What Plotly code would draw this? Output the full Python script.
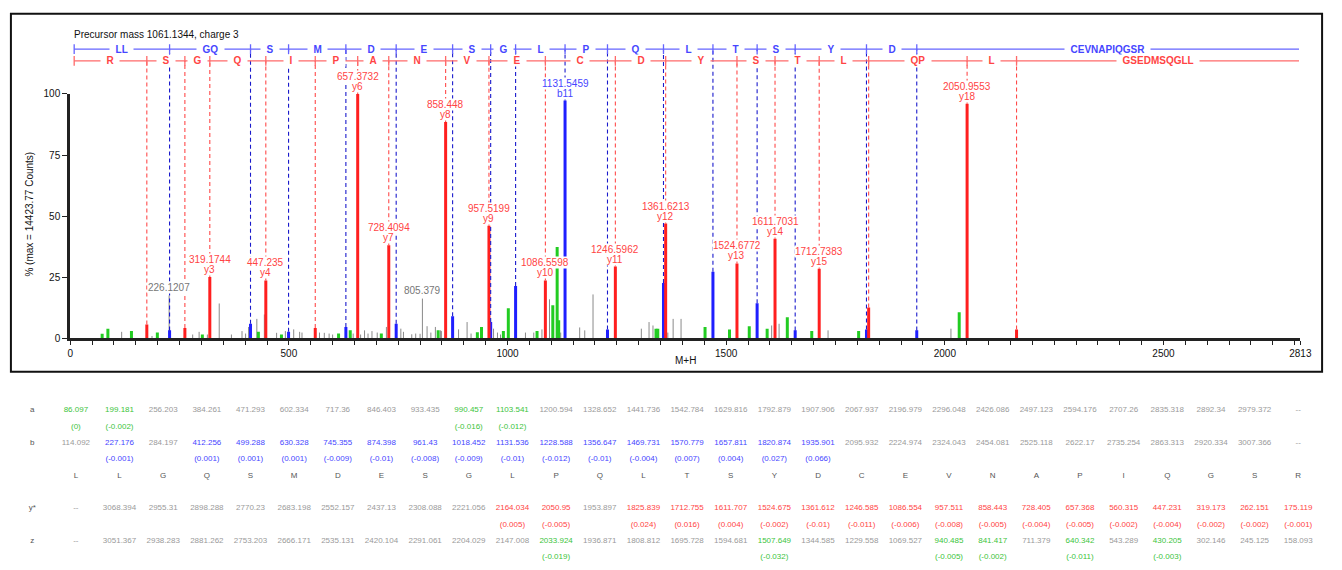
import plotly.graph_objects as go

FONT = "Liberation Sans, Arial, sans-serif"

# ---------------------------------------------------------------- peptide
sequence = "LLGQSMDESGLPQLTSYDCEVNAPIQGSR"
precursor_text = "Precursor mass 1061.1344, charge 3"
max_counts_text = "% (max = 14423.77 Counts)"

# theoretical fragment masses (one entry per residue column) and match errors
a_ions = [86.097, 199.181, 256.203, 384.261, 471.293, 602.334, 717.36, 846.403, 933.435,
          990.457, 1103.541, 1200.594, 1328.652, 1441.736, 1542.784, 1629.816, 1792.879,
          1907.906, 2067.937, 2196.979, 2296.048, 2426.086, 2497.123, 2594.176, 2707.26,
          2835.318, 2892.34, 2979.372, None]
a_err = [0.0, -0.002, None, None, None, None, None, None, None,
         -0.016, -0.012, None, None, None, None, None, None,
         None, None, None, None, None, None, None, None,
         None, None, None, None]

b_ions = [114.092, 227.176, 284.197, 412.256, 499.288, 630.328, 745.355, 874.398, 961.43,
          1018.452, 1131.536, 1228.588, 1356.647, 1469.731, 1570.779, 1657.811, 1820.874,
          1935.901, 2095.932, 2224.974, 2324.043, 2454.081, 2525.118, 2622.17, 2735.254,
          2863.313, 2920.334, 3007.366, None]
b_err = [None, -0.001, None, 0.001, 0.001, 0.001, -0.009, -0.01, -0.008,
         -0.009, -0.01, -0.012, -0.01, -0.004, 0.007, 0.004, 0.027,
         0.066, None, None, None, None, None, None, None,
         None, None, None, None]

y_ions = [None, 3068.394, 2955.31, 2898.288, 2770.23, 2683.198, 2552.157, 2437.13, 2308.088,
          2221.056, 2164.034, 2050.95, 1953.897, 1825.839, 1712.755, 1611.707, 1524.675,
          1361.612, 1246.585, 1086.554, 957.511, 858.443, 728.405, 657.368, 560.315,
          447.231, 319.173, 262.151, 175.119]
y_err = [None, None, None, None, None, None, None, None, None,
         None, 0.005, -0.005, None, 0.024, 0.016, 0.004, -0.002,
         -0.01, -0.011, -0.006, -0.008, -0.005, -0.004, -0.005, -0.002,
         -0.004, -0.002, -0.002, -0.001]

z_ions = [None, 3051.367, 2938.283, 2881.262, 2753.203, 2666.171, 2535.131, 2420.104, 2291.061,
          2204.029, 2147.008, 2033.924, 1936.871, 1808.812, 1695.728, 1594.681, 1507.649,
          1344.585, 1229.558, 1069.527, 940.485, 841.417, 711.379, 640.342, 543.289,
          430.205, 302.146, 245.125, 158.093]
z_err = [None, None, None, None, None, None, None, None, None,
         None, None, -0.019, None, None, None, None, -0.032,
         None, None, None, -0.005, -0.002, None, -0.011, None,
         -0.003, None, None, None]

# ---------------------------------------------------------------- spectrum (m/z, % of base peak)
y_peak_mz = [175.120, 262.153, 319.1744, 447.235, 560.317, 657.3732, 728.4094, 858.448,
             957.5199, 1086.5598, 1246.5962, 1361.6213, 1524.6772, 1611.7031, 1712.7383,
             1825.815, 2050.9553, 2164.029]
y_peak_int = [5.7, 4.3, 25.1, 23.7, 4.3, 100.0, 38.1, 88.5,
              46.1, 23.7, 29.4, 47.0, 30.7, 40.8, 28.5,
              12.7, 96.0, 3.7]
y_peak_name = ["", "", "y3", "y4", "", "y6", "y7", "y8",
               "y9", "y10", "y11", "y12", "y13", "y14", "y15",
               "", "y18", ""]

b_peak_mz = [227.175, 412.255, 499.287, 630.327, 745.364, 874.408, 961.438, 1018.461,
             1131.5459, 1228.600, 1356.657, 1469.735, 1570.772, 1657.807, 1820.847, 1935.835]
b_peak_int = [3.3, 6.0, 2.7, 4.7, 6.0, 9.1, 6.7, 21.4,
              97.3, 3.7, 22.7, 27.3, 14.4, 3.3, 3.7, 3.3]
b_peak_name = ["", "", "", "", "", "", "", "",
               "b11", "", "", "", "", "", "", ""]

other_peak_mz = [73.0, 86.1, 140.0, 199.2, 302.1, 430.2, 483.0, 613.6, 640.3, 711.4,
                 841.4, 931.0, 940.5, 990.5, 1001.8, 1067.5, 1103.5, 1113.5, 1117.0,
                 1339.5, 1343.6, 1451.7, 1507.6, 1552.8, 1593.7, 1639.8, 1695.7, 1802.9,
                 2032.9]
other_peak_int = [1.9, 4.0, 3.0, 2.4, 1.6, 2.7, 1.6, 2.0, 3.3, 2.0,
                  3.3, 2.5, 4.7, 3.0, 12.3, 3.0, 13.6, 37.4, 7.4,
                  4.0, 4.0, 4.7, 3.7, 5.0, 4.0, 8.7, 3.0, 3.0,
                  10.7]

unassigned_mz = [117.6, 187.0, 226.1207, 280.0, 294.7, 313.6, 340.7, 368.6, 392.8, 401.0,
                 407.8, 426.7, 443.9, 471.9, 492.0, 511.0, 524.6, 530.0, 570.0, 581.0,
                 592.0, 600.0, 647.0, 664.0, 673.0, 681.0, 690.0, 702.0, 723.0, 756.0,
                 762.0, 781.0, 790.0, 800.0, 805.379, 816.0, 824.7, 835.0, 847.0, 848.7,
                 888.0, 907.5, 916.6, 968.0, 977.0, 984.0, 1041.0, 1060.0, 1078.7, 1096.0,
                 1121.6, 1165.0, 1176.6, 1195.5, 1306.0, 1323.6, 1332.6, 1366.6, 1378.7,
                 1396.8, 1604.0, 1621.0, 1733.0, 2014.0]
unassigned_int = [2.7, 1.0, 17.6, 1.6, 2.7, 1.6, 14.3, 1.6, 3.0, 2.0,
                  4.7, 8.0, 9.8, 2.3, 3.0, 3.7, 2.7, 2.4, 2.4, 2.3,
                  2.0, 1.6, 2.0, 1.6, 3.3, 2.0, 3.0, 2.4, 4.7, 4.0,
                  2.7, 1.7, 2.0, 1.9, 16.3, 5.0, 2.4, 4.7, 3.3, 3.0,
                  3.7, 6.7, 2.0, 4.0, 2.4, 1.6, 2.4, 2.4, 3.7, 16.0,
                  2.4, 4.5, 3.3, 18.0, 4.0, 6.7, 5.3, 2.4, 8.0,
                  8.0, 5.3, 6.0, 3.3, 4.0]
unassigned_labelled = [226.1207, 805.379]

x_tick_values = [0, 500, 1000, 1500, 2000, 2500, 2813]
y_tick_values = [0, 25, 50, 75, 100]

# ---------------------------------------------------------------- colours
RED, RED_DASH, RED_LADDER, RED_TXT = "#ff1f1f", "#ff4a4a", "#ff6a6a", "#ff4444"
BLUE, BLUE_DASH, BLUE_LADDER, BLUE_TXT = "#1f1fff", "#1a1acc", "#6464ff", "#4646ff"
GREEN, GREEN_TXT = "#22cc22", "#3cc43c"
GRAY, GRAY_TXT, DARK_TXT = "#8a8a8a", "#9a9a9a", "#555555"

# ---------------------------------------------------------------- geometry (pixels)
W, H = 1342, 570
PLOT_L, PLOT_R = 68, 1312
BASE_PX, FULL_PX, TOP_PX = 340, 90.7, 36
LADDER_B_PX, LADDER_Y_PX = 45, 57
LADDER_START, LADDER_END = 9.0, 2810.0
px_per_pct = (BASE_PX - FULL_PX) / 100.0


def fx(px):
    return px / W


def fy(py):
    return (H - py) / H


def pct_at(py):
    return (BASE_PX - py) / px_per_pct


ladder_b = pct_at(LADDER_B_PX)
ladder_y = pct_at(LADDER_Y_PX)
tick_half = 5 / px_per_pct


def sticks(mzs, ints):
    xs, ys = [], []
    for m, h in zip(mzs, ints):
        xs += [m, m, None]
        ys += [0, h, None]
    return xs, ys


def drops(mzs, ints, level):
    xs, ys = [], []
    for m, h in zip(mzs, ints):
        xs += [m, m, None]
        ys += [h, level, None]
    return xs, ys


def ladder(edges, level):
    xs = [edges[0], edges[-1], None]
    ys = [level, level, None]
    for e in edges[:-1]:
        xs += [e, e, None]
        ys += [level - tick_half, level + tick_half, None]
    return xs, ys


fig = go.Figure()

# spectrum sticks on the 0-100 % axis
for mzs, ints, color, width in [(unassigned_mz, unassigned_int, GRAY, 1),
                                (other_peak_mz, other_peak_int, GREEN, 3),
                                (b_peak_mz, b_peak_int, BLUE, 3),
                                (y_peak_mz, y_peak_int, RED, 3)]:
    xs, ys = sticks(mzs, ints)
    fig.add_trace(go.Scatter(x=xs, y=ys, mode="lines", xaxis="x", yaxis="y",
                             line=dict(color=color, width=width),
                             hoverinfo="skip", showlegend=False))

# connector lines from peaks up to the ladders (taller overlay axis y2, same scale)
for mzs, ints, color, level in [(y_peak_mz, y_peak_int, RED_DASH, ladder_y),
                                (b_peak_mz, b_peak_int, BLUE_DASH, ladder_b)]:
    xs, ys = drops(mzs, ints, level)
    fig.add_trace(go.Scatter(x=xs, y=ys, mode="lines", xaxis="x", yaxis="y2",
                             line=dict(color=color, width=1.1, dash="4px,3px"),
                             hoverinfo="skip", showlegend=False))

# fragment ladders
b_idx = [i for i, e in enumerate(b_err) if e is not None]
b_edges = [LADDER_START] + [b_ions[i] for i in b_idx] + [LADDER_END]
b_labels, prev = [], 0
for i in b_idx:
    b_labels.append(sequence[prev:i + 1])
    prev = i + 1
b_labels.append(sequence[prev:])

y_idx = sorted([i for i, e in enumerate(y_err) if e is not None], reverse=True)
y_edges = [LADDER_START] + [y_ions[i] for i in y_idx] + [LADDER_END]
y_labels, prev = [], len(sequence)
for i in y_idx:
    y_labels.append(sequence[i:prev][::-1])
    prev = i
y_labels.append(sequence[:prev][::-1])

annotations = []
PAD = "&nbsp;&nbsp;"
for edges, labels, level, lcol, tcol in [(b_edges, b_labels, ladder_b, BLUE_LADDER, BLUE_TXT),
                                         (y_edges, y_labels, ladder_y, RED_LADDER, RED_TXT)]:
    xs, ys = ladder(edges, level)
    fig.add_trace(go.Scatter(x=xs, y=ys, mode="lines", xaxis="x", yaxis="y2",
                             line=dict(color=lcol, width=1.3),
                             hoverinfo="skip", showlegend=False))
    for k, lab in enumerate(labels):
        annotations.append(dict(x=(edges[k] + edges[k + 1]) / 2, y=level, xref="x", yref="y2",
                                text=PAD + lab + PAD, showarrow=False, bgcolor="white",
                                borderpad=0,
                                font=dict(family=FONT, size=10, color=tcol, weight="bold"),
                                xanchor="center", yanchor="middle"))

# peak labels: m/z line above ion name
name_notes = []
for mzs, ints, names, col in [(y_peak_mz, y_peak_int, y_peak_name, RED_TXT),
                              (b_peak_mz, b_peak_int, b_peak_name, BLUE_TXT)]:
    for m, h, n in zip(mzs, ints, names):
        if not n:
            continue
        annotations.append(dict(x=m, y=h, xref="x", yref="y2", text=str(m), showarrow=False,
                                yshift=17.5, bgcolor="white", borderpad=0,
                                font=dict(family=FONT, size=10, color=col),
                                xanchor="center", yanchor="middle"))
        name_notes.append(dict(x=m, y=h, xref="x", yref="y2", text=n, showarrow=False,
                               yshift=7.5, bgcolor="white", borderpad=0,
                               font=dict(family=FONT, size=10, color=col),
                               xanchor="center", yanchor="middle"))
annotations += name_notes
for m, h in zip(unassigned_mz, unassigned_int):
    if m in unassigned_labelled:
        annotations.append(dict(x=m, y=h, xref="x", yref="y2", text=str(m), showarrow=False,
                                yshift=8, bgcolor="white", borderpad=0,
                                font=dict(family=FONT, size=10, color="#777777"),
                                xanchor="center", yanchor="middle"))

# titles inside the spectrum frame
annotations += [
    dict(x=fx(70), y=fy(30), xref="paper", yref="paper", text=precursor_text, showarrow=False,
         xanchor="left", yanchor="middle", font=dict(family=FONT, size=10, color="#111111")),
    dict(x=fx(27), y=fy(213), xref="paper", yref="paper", text=max_counts_text, showarrow=False,
         textangle=-90, xanchor="center", yanchor="middle",
         font=dict(family=FONT, size=10, color="#111111")),
    dict(x=fx((PLOT_L + PLOT_R) / 2), y=fy(363), xref="paper", yref="paper", text="M+H",
         showarrow=False, xanchor="center", yanchor="middle",
         font=dict(family=FONT, size=10, color="#111111")),
]

# ---------------------------------------------------------------- fragment table
COL0_PX, COL_STEP = 73.7, 44.15
ROW0_PX, ROW_STEP = 413.3, 16.67


def fmt_mass(v):
    return "--" if v is None else str(v)


def fmt_err(e):
    return f"({e:g})"


table_rows = [("a", a_ions, a_err, GREEN_TXT, 0),
              ("b", b_ions, b_err, BLUE_TXT, 2),
              ("y*", y_ions, y_err, RED_TXT, 6),
              ("z", z_ions, z_err, GREEN_TXT, 8)]

for label, masses, errs, col, row in table_rows:
    xs = [-1] + list(range(len(masses)))
    texts = [label] + [fmt_mass(v) for v in masses]
    colors = [DARK_TXT] + [col if e is not None else GRAY_TXT for e in errs]
    fig.add_trace(go.Scatter(x=xs, y=[row] * len(xs), mode="text", text=texts,
                             textfont=dict(family=FONT, size=8, color=colors),
                             xaxis="x3", yaxis="y3", hoverinfo="skip", showlegend=False))
    ex = [i for i, e in enumerate(errs) if e is not None]
    fig.add_trace(go.Scatter(x=ex, y=[row + 1] * len(ex), mode="text",
                             text=[fmt_err(errs[i]) for i in ex],
                             textfont=dict(family=FONT, size=8, color=col),
                             xaxis="x3", yaxis="y3", hoverinfo="skip", showlegend=False))

fig.add_trace(go.Scatter(x=list(range(len(sequence))), y=[4] * len(sequence), mode="text",
                         text=list(sequence), textfont=dict(family=FONT, size=8, color=DARK_TXT),
                         xaxis="x3", yaxis="y3", hoverinfo="skip", showlegend=False))

# ---------------------------------------------------------------- layout
fig.update_layout(
    width=W, height=H, margin=dict(l=0, r=0, t=0, b=0),
    paper_bgcolor="white", plot_bgcolor="rgba(0,0,0,0)",
    font=dict(family=FONT, size=10, color="#111111"),
    showlegend=False,
    xaxis=dict(domain=[fx(PLOT_L), fx(PLOT_R)], range=[0, 2813], anchor="y",
               showline=True, linewidth=3, linecolor="#222222", showgrid=False, zeroline=False,
               tickmode="array", tickvals=x_tick_values, ticktext=[str(v) for v in x_tick_values],
               ticks="outside", ticklen=4, tickwidth=1, tickcolor="#222222",
               tickfont=dict(family=FONT, size=10, color="#111111"),
               minor=dict(tickmode="linear", tick0=0, dtick=50, ticks="outside", ticklen=4,
                          tickwidth=1, tickcolor="#222222", showgrid=False)),
    yaxis=dict(domain=[fy(BASE_PX), fy(FULL_PX)], range=[0, 100], anchor="x",
               showline=True, linewidth=3, linecolor="#222222", showgrid=False, zeroline=False,
               tickmode="array", tickvals=y_tick_values, ticks="outside", ticklen=5,
               tickwidth=1, tickcolor="#222222",
               tickfont=dict(family=FONT, size=10, color="#111111")),
    yaxis2=dict(domain=[fy(BASE_PX), fy(TOP_PX)], range=[0, pct_at(TOP_PX)], anchor="x",
                visible=False, showgrid=False, zeroline=False),
    xaxis3=dict(domain=[0, 1], range=[-COL0_PX / COL_STEP, (W - COL0_PX) / COL_STEP],
                anchor="y3", visible=False, showgrid=False, zeroline=False),
    yaxis3=dict(domain=[0, 1], range=[(H - ROW0_PX) / ROW_STEP, -ROW0_PX / ROW_STEP],
                anchor="x3", visible=False, showgrid=False, zeroline=False),
    annotations=annotations,
    shapes=[dict(type="rect", xref="paper", yref="paper", x0=fx(8), x1=fx(1334),
                 y0=fy(374), y1=fy(9), line=dict(color="#111111", width=2),
                 fillcolor="rgba(0,0,0,0)", layer="above")],
)

fig.write_html("out.html")
